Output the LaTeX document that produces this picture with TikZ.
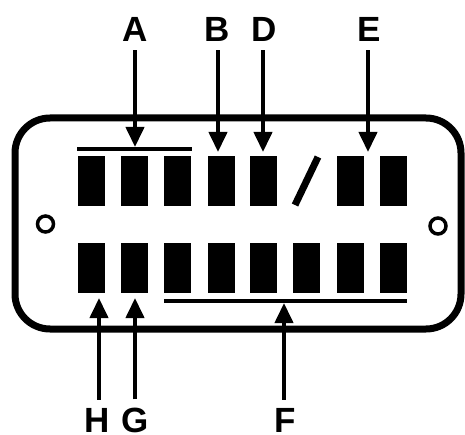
\documentclass[tikz,border=0pt]{standalone}
\usepackage{fontspec}
\setmainfont{Liberation Sans}
\usetikzlibrary{arrows.meta}
\begin{document}
\begin{tikzpicture}[x=1pt,y=-1pt,
  blk/.style={fill=black,inner sep=0pt,minimum width=27pt,minimum height=50pt},
  lbl/.style={inner sep=0pt,font=\fontsize{35}{40}\selectfont\bfseries},
  arr/.style={line width=4pt,-{Triangle[width=18pt,length=20pt]}},
  bar/.style={line width=4pt},
  hole/.style={circle,draw,line width=3.5pt,minimum size=16pt,inner sep=0pt}]
\useasboundingbox (0,0) rectangle (465,435);
% housing
\draw[line width=7pt,rounded corners=35pt] (15,118) rectangle (461,329);
\node[hole] (hl) at (45.5,224) {};
\node[hole] (hr) at (438,226) {};
% top row
\node[blk] (t1) at (91.5,181) {};
\node[blk] (t2) at (134.5,181) {};
\node[blk] (t3) at (177.5,181) {};
\node[blk] (t4) at (221,181) {};
\node[blk] (t5) at (263.5,181) {};
\node[blk] (t6) at (350,181) {};
\node[blk] (t7) at (393,181) {};
\draw[line width=7pt] (295,205) -- (318,157);
% bottom row
\node[blk] (b1) at (91.5,268) {};
\node[blk] (b2) at (134.5,268) {};
\node[blk] (b3) at (177.5,268) {};
\node[blk] (b4) at (221,268) {};
\node[blk] (b5) at (263.5,268) {};
\node[blk] (b6) at (306.5,268) {};
\node[blk] (b7) at (350,268) {};
\node[blk] (b8) at (393,268) {};
% bars
\coordinate (abl) at (77,149);
\coordinate (abr) at (192,149);
\draw[bar] (abl) -- (abr);
\coordinate (fbl) at (164,301);
\coordinate (fbr) at (407,301);
\draw[bar] (fbl) -- (fbr);
% labels
\node[lbl,anchor=base] (A) at (135,42) {A};
\node[lbl,anchor=base] (B) at (217,42) {B};
\node[lbl,anchor=base] (D) at (264,42) {D};
\node[lbl,anchor=base] (E) at (369,42) {E};
\node[lbl,anchor=base] (H) at (97,432) {H};
\node[lbl,anchor=base] (G) at (135,432) {G};
\node[lbl,anchor=base] (F) at (285,432) {F};
% arrow targets
\coordinate (Atip) at (135,147);
\coordinate (Btip) at (218,152);
\coordinate (Dtip) at (263,152);
\coordinate (Etip) at (368,152);
\coordinate (Htip) at (99,298);
\coordinate (Gtip) at (135,298);
\coordinate (Ftip) at (284,303);
% arrows
\draw[arr] ([yshift=-8pt]A.south) -- (Atip);
\draw[arr] ([yshift=-8pt]B.south -| Btip) -- (Btip);
\draw[arr] ([yshift=-8pt]D.south -| Dtip) -- (Dtip);
\draw[arr] ([yshift=-8pt]E.south -| Etip) -- (Etip);
\draw[arr] ([yshift=8pt]H.north -| Htip) -- (Htip);
\draw[arr] ([yshift=8pt]G.north -| Gtip) -- (Gtip);
\draw[arr] ([yshift=8pt]F.north -| Ftip) -- (Ftip);
\end{tikzpicture}
\end{document}
